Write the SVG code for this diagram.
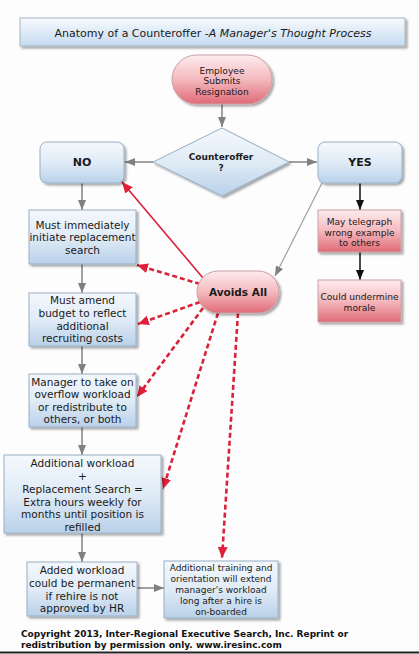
<svg xmlns="http://www.w3.org/2000/svg" width="419" height="654" viewBox="0 0 419 654">
<defs>
<style>
text{font-family:"DejaVu Sans","Liberation Sans",sans-serif;fill:#1a1a1a;text-anchor:middle}
.t{font-size:10.5px}
.s{font-size:9.1px}
.b{font-weight:bold}
.blue{fill:url(#gBlue);stroke:#98aec6;stroke-width:1;filter:url(#sh)}
.red{fill:url(#gRed);stroke:#c9a0a4;stroke-width:1;filter:url(#sh)}
.gray{stroke:#808080;stroke-width:1.5;fill:none;marker-end:url(#aGray)}
.blk{stroke:#111;stroke-width:1.5;fill:none;marker-end:url(#aBlk)}
.rd{stroke:#d9213a;stroke-width:2.6;fill:none;stroke-dasharray:5 3;marker-end:url(#aRed)}
.rs{stroke:#d9213a;stroke-width:1.6;fill:none;marker-end:url(#aRed)}
.cp{font-size:9px;font-weight:bold;text-anchor:start;fill:#111}
</style>
<linearGradient id="gBlue" x1="0" y1="0" x2="0" y2="1"><stop offset="0" stop-color="#f4f8fc"/><stop offset="0.5" stop-color="#e0ebf6"/><stop offset="1" stop-color="#b9d1ea"/></linearGradient>
<linearGradient id="gRed" x1="0" y1="0" x2="0" y2="1"><stop offset="0" stop-color="#fdeced"/><stop offset="0.5" stop-color="#f4b9be"/><stop offset="1" stop-color="#e06a76"/></linearGradient>
<linearGradient id="gTitle" x1="0" y1="0" x2="0" y2="1"><stop offset="0" stop-color="#f7fafd"/><stop offset="1" stop-color="#c6dbf0"/></linearGradient>
<filter id="sh" x="-10%" y="-10%" width="130%" height="140%"><feDropShadow dx="2" dy="2" stdDeviation="1.3" flood-color="#000" flood-opacity="0.35"/></filter>
<marker id="aGray" markerUnits="userSpaceOnUse" markerWidth="10" markerHeight="10" viewBox="0 0 10 10" refX="10" refY="5" orient="auto"><path d="M0,1 L10,5 L0,9 Z" fill="#808080"/></marker>
<marker id="aBlk" markerUnits="userSpaceOnUse" markerWidth="10" markerHeight="10" viewBox="0 0 10 10" refX="10" refY="5" orient="auto"><path d="M0,1 L10,5 L0,9 Z" fill="#111"/></marker>
<marker id="aRed" markerUnits="userSpaceOnUse" markerWidth="11" markerHeight="11" viewBox="0 0 10 10" refX="10" refY="5" orient="auto"><path d="M0,0.5 L10,5 L0,9.5 Z" fill="#e0203a"/></marker>
</defs>
<rect x="0" y="0" width="419" height="654" fill="#fdfdfd"/>

<g id="title">
<rect x="20" y="18" width="385" height="28" fill="url(#gTitle)" stroke="#a8b4c0" filter="url(#sh)"/>
<text x="213" y="37" style="font-size:11px">Anatomy of a Counteroffer -<tspan font-style="italic">A Manager's Thought Process</tspan></text>
</g>

<g id="connectors">
<line class="gray" x1="222" y1="104" x2="222" y2="127"/>
<line class="gray" x1="153" y1="162" x2="125" y2="162"/>
<line class="gray" x1="289" y1="162" x2="317" y2="162"/>
<line class="gray" x1="82" y1="183" x2="82" y2="210"/>
<line class="gray" x1="82" y1="264" x2="82" y2="293"/>
<line class="gray" x1="82" y1="346" x2="82" y2="374"/>
<line class="gray" x1="82" y1="427" x2="82" y2="455"/>
<line class="gray" x1="82" y1="533" x2="82" y2="562"/>
<line class="gray" x1="137" y1="588" x2="164" y2="588"/>
<line class="gray" x1="322" y1="183" x2="275" y2="276" style="stroke:#a0a0a0;stroke-width:1.2"/>
<line class="blk" x1="360" y1="183" x2="360" y2="210"/>
<line class="blk" x1="360" y1="252" x2="360" y2="280"/>
<line class="rs" x1="203" y1="278" x2="122" y2="182"/>
<line class="rd" x1="200" y1="284" x2="137" y2="265"/>
<line class="rd" x1="200" y1="302" x2="138" y2="324"/>
<line class="rd" x1="203" y1="308" x2="137" y2="397"/>
<line class="rd" x1="218" y1="313" x2="163" y2="489"/>
<line class="rd" x1="238" y1="313" x2="222" y2="558"/>
</g>

<g id="employee">
<rect class="red" x="172" y="55" width="100" height="49" rx="24.5"/>
<text class="s" x="222" y="73.5">Employee</text>
<text class="s" x="222" y="84">Submits</text>
<text class="s" x="222" y="94.5">Resignation</text>
</g>

<g id="counteroffer">
<path class="blue" d="M222,128 L289,162 L222,196 L153,162 Z"/>
<text class="b" x="221" y="160" style="font-size:9px">Counteroffer</text>
<text class="b" x="221" y="171" style="font-size:9px">?</text>
</g>

<g id="no">
<rect class="blue" x="40" y="142" width="84" height="41" rx="7"/>
<text class="b" x="82" y="166" style="font-size:11px">NO</text>
</g>

<g id="yes">
<rect class="blue" x="318" y="142" width="84" height="41" rx="7"/>
<text class="b" x="360" y="166" style="font-size:11px">YES</text>
</g>

<g id="telegraph">
<rect class="red" x="318" y="210" width="83" height="42"/>
<text class="s" x="359.5" y="225">May telegraph</text>
<text class="s" x="359.5" y="236">wrong example</text>
<text class="s" x="359.5" y="246">to others</text>
</g>

<g id="morale">
<rect class="red" x="318" y="280" width="83" height="42"/>
<text class="s" x="359.5" y="300">Could undermine</text>
<text class="s" x="359.5" y="310.5">morale</text>
</g>

<g id="avoids">
<rect class="red" x="197" y="271" width="82" height="42" rx="21"/>
<text class="b" x="238" y="296" style="font-size:10.5px">Avoids All</text>
</g>

<g id="replace">
<rect class="blue" x="29" y="210" width="107" height="54"/>
<text class="t" x="82.5" y="228.5">Must immediately</text>
<text class="t" x="82.5" y="241">initiate replacement</text>
<text class="t" x="82.5" y="254">search</text>
</g>

<g id="budget">
<rect class="blue" x="29" y="293" width="107" height="53"/>
<text class="t" x="82.5" y="304">Must amend</text>
<text class="t" x="82.5" y="317">budget to reflect</text>
<text class="t" x="82.5" y="330">additional</text>
<text class="t" x="82.5" y="342">recruiting costs</text>
</g>

<g id="manager">
<rect class="blue" x="29" y="374" width="107" height="53"/>
<text class="t" x="82.5" y="386">Manager to take on</text>
<text class="t" x="82.5" y="398">overflow workload</text>
<text class="t" x="82.5" y="411">or redistribute to</text>
<text class="t" x="82.5" y="423">others, or both</text>
</g>

<g id="workload">
<rect class="blue" x="4" y="455" width="157" height="78"/>
<text class="t" x="82.5" y="467">Additional workload</text>
<text class="t" x="82.5" y="480">+</text>
<text class="t" x="82.5" y="493">Replacement Search =</text>
<text class="t" x="82.5" y="506">Extra hours weekly for</text>
<text class="t" x="82.5" y="518">months until position is</text>
<text class="t" x="82.5" y="531">refilled</text>
</g>

<g id="permanent">
<rect class="blue" x="27" y="562" width="110" height="54"/>
<text class="t" x="82" y="574">Added workload</text>
<text class="t" x="82" y="587">could be permanent</text>
<text class="t" x="82" y="600">if rehire is not</text>
<text class="t" x="82" y="612">approved by HR</text>
</g>

<g id="training">
<rect class="blue" x="164" y="561" width="114" height="57"/>
<text x="221" y="570.5" style="font-size:9px">Additional training and</text>
<text x="221" y="581.5" style="font-size:9px">orientation will extend</text>
<text x="221" y="592.5" style="font-size:9px">manager's workload</text>
<text x="221" y="603.5" style="font-size:9px">long after a hire is</text>
<text x="221" y="614.5" style="font-size:9px">on-boarded</text>
</g>

<g id="copyright">
<text class="cp" x="21" y="636.5">Copyright 2013, Inter-Regional Executive Search, Inc. Reprint or</text>
<text class="cp" x="21" y="647.5">redistribution by permission only.  www.iresinc.com</text>
</g>
<rect x="0" y="651.5" width="419" height="2" fill="#222"/>
</svg>
